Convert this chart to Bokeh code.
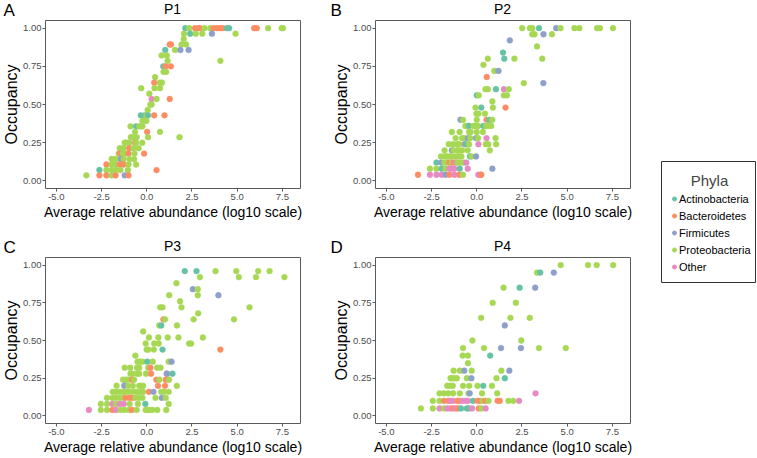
import numpy as np
from bokeh.plotting import figure
from bokeh.models import (ColumnDataSource, FixedTicker, NumeralTickFormatter, Label,
                          Legend, LegendItem, Range1d, Spacer)
from bokeh.layouts import row, column
from bokeh.embed import file_html
from bokeh.resources import INLINE

# ---------------- data ----------------
phyla_names = ["Actinobacteria", "Bacteroidetes", "Firmicutes", "Proteobacteria", "Other"]
phyla_codes = ["A", "B", "F", "P", "O"]
phyla_colors = ["#66C2A5", "#FC8D62", "#8DA0CB", "#A6D854", "#E78AC3"]

x_ticks = [-5.0, -2.5, 0.0, 2.5, 5.0, 7.5]
y_ticks = [0.0, 0.25, 0.5, 0.75, 1.0]
panel_titles = ["P1", "P2", "P3", "P4"]
panel_letters = ["A", "B", "C", "D"]
legend_title = "Phyla"
x_title = "Average relative abundance (log10 scale)"
y_title = "Occupancy"

# P1: one entry per occupancy level; x values and phylum codes of the points at that level
p1_occ = [1.000, 0.964, 0.929, 0.893, 0.857, 0.821, 0.786, 0.750, 0.714, 0.679, 0.643, 0.607, 0.571, 0.536,
          0.500, 0.464, 0.429, 0.393, 0.357, 0.321, 0.286, 0.250, 0.214, 0.179, 0.143, 0.107, 0.071, 0.036]
p1_x = [
    [2.13, 2.35, 2.67, 2.85, 2.94, 3.19, 3.51, 3.69, 3.87, 4.05, 4.20, 4.43, 4.55, 5.94, 6.08, 6.71, 7.46, 7.53],
    [2.06, 2.40, 2.71, 3.07, 3.60, 4.91],
    [2.04],
    [1.27, 1.34, 1.92, 2.17],
    [1.02, 1.56, 1.86, 2.31],
    [0.82, 1.11],
    [1.15, 4.07],
    [0.91, 1.04, 1.33],
    [0.93, 1.07],
    [0.46],
    [0.41, 0.72, 0.84],
    [-0.31, 0.43, 0.73],
    [0.14],
    [0.27, 0.54, 1.27],
    [0.20, 0.27],
    [0.05],
    [-0.33, -0.11, -0.02, 0.07, 0.41, 0.98],
    [-0.24, -0.13, -0.02],
    [-0.90, -0.59, -0.42, -0.31, -0.24],
    [-0.65, 0.02, 0.73],
    [-0.88, -0.77, -0.56, 0.07, 1.81],
    [-1.22, -1.13, -0.97, -0.65, -0.59, -0.25],
    [-1.49, -1.28, -0.97, -0.74, -0.45],
    [-1.55, -1.49, -1.33, -1.19, -1.01, -0.68, -0.15],
    [-1.94, -1.72, -1.46, -1.42, -1.28, -0.95, -0.70],
    [-2.23, -1.94, -1.72, -1.49, -1.28, -1.01, -0.59],
    [-2.62, -2.23, -1.94, -1.72, -1.46, -1.04, 0.54],
    [-3.34, -2.62, -2.23, -1.94, -1.72, -1.22, -1.01],
]
p1_phy = ["APBBBPPBBBBAABBPPP", "PAPPFP", "P", "BBPP", "APFF", "PP", "PP", "ABB", "PP", "P", "BPP", "PPP",
          "P", "OPB", "PP", "P", "AAPABB", "PPP", "PAPPP", "PBP", "PPPPP", "PPPBPP", "PPBPP", "PBPPBPB",
          "PPPFPPP", "BPPBBPP", "APPPPPB", "PBBPBFB"]

# P2
p2_occ = [1.00, 0.96, 0.92, 0.88, 0.84, 0.80, 0.76, 0.72, 0.68, 0.64, 0.60, 0.56, 0.52, 0.48, 0.44, 0.40,
          0.36, 0.32, 0.28, 0.24, 0.20, 0.16, 0.12, 0.08, 0.04]
p2_x = [
    [2.51, 2.94, 3.07, 3.44, 4.39, 4.63, 5.40, 5.67, 6.65, 6.81, 7.53],
    [3.07, 3.19, 3.69, 4.16],
    [1.83],
    [3.33],
    [1.45],
    [0.61, 1.52, 2.08, 3.62],
    [0.37],
    [0.97, 1.20],
    [0.55],
    [2.60, 3.68],
    [0.48, 0.61, 1.06, 1.50, 1.77],
    [0.00, 0.11, 1.50, 1.67],
    [0.86],
    [-0.07, 0.25, 0.89, 1.59],
    [-0.02, 0.09, 0.45],
    [-0.90, -0.76, 0.00, 0.54, 0.70, 0.86],
    [-0.63, -0.54, -0.42, -0.18, -0.11, 0.07, 0.37, 0.52, 0.64, 0.80],
    [-1.38, -0.95, -0.43, -0.34, 0.00, 0.34],
    [-1.17, -0.81, -0.68, -0.49, -0.36, -0.04, 0.07, 0.54, 1.04],
    [-1.55, -1.31, -1.08, -0.97, -0.68, -0.62, -0.43, 0.09, 0.50, 0.64, 1.07],
    [-1.78, -1.38, -1.28, -1.08, -0.99, -0.81, -0.50, 0.72],
    [-1.98, -1.76, -1.64, -1.49, -1.37, -1.15, -0.97, -0.85, -0.38, -0.29, -0.04],
    [-2.23, -1.96, -1.80, -1.67, -1.51, -1.38, -1.28, -1.15, -1.06, -0.92, -0.74, -0.58],
    [-2.59, -2.23, -1.94, -1.72, -1.51, -1.40, -1.24, -0.94, -0.50, 0.86],
    [-3.25, -2.59, -2.23, -1.94, -1.72, -1.51, -1.24, -0.97, -0.76, 0.09, 0.20, 0.25],
]
p2_phy = ["PPPAFPPPPPP", "PPFP", "F", "P", "A", "PAPP", "P", "PF", "B", "PF", "PPAOP", "APPP", "P", "PAPB",
          "PPP", "FPPBAP", "PPAPPPAPPP", "PPPPPP", "PPPFPFPOP", "PPPPOAPOPPP", "PFPPPPPP", "PPPPPPPPAPF",
          "AFPPBPBOPPPO", "PPAPOOOAOF", "BOOOFBOBPOOB"]

# P3
p3_occ = [0.96, 0.92, 0.88, 0.84, 0.80, 0.76, 0.72, 0.68, 0.64, 0.60, 0.56, 0.52, 0.48, 0.44, 0.40, 0.36,
          0.32, 0.28, 0.24, 0.20, 0.16, 0.12, 0.08, 0.04]
p3_x = [
    [2.10, 2.75, 3.80, 4.95, 6.16, 6.79],
    [2.94, 5.09, 6.04, 7.61],
    [1.64],
    [2.55, 2.82],
    [1.24, 2.82, 3.96],
    [1.84],
    [0.74, 0.87, 1.92, 5.68],
    [2.84],
    [0.92, 1.01, 2.59, 4.82],
    [0.69, 0.80, 1.67],
    [-0.20],
    [0.12, 0.64, 1.16, 1.75, 3.10],
    [-0.06, 0.41, 0.66, 2.34, 2.45],
    [-0.01, 0.08, 0.39, 0.87, 4.07],
    [-0.63],
    [-0.51, -0.38, -0.24, 0.03, 0.33, 1.21, 1.37],
    [-1.22, -0.92, -0.54, -0.42, 0.08, 0.20, 0.57, 0.76],
    [-0.90, -0.79, -0.54, -0.42, -0.04, 0.24, 1.10, 1.12, 1.42],
    [-1.31, -1.17, -1.04, -0.81, -0.70, 0.53, 0.70, 1.05, 1.23],
    [-1.67, -1.24, -1.02, -0.77, -0.42, -0.31, -0.20, 0.62, 1.01, 1.66],
    [-1.88, -1.70, -1.49, -1.31, -1.17, -1.02, -0.83, -0.63, -0.49, -0.31, -0.20, 0.12, 0.37, 0.80, 0.96, 1.21],
    [-2.20, -1.90, -1.70, -1.49, -1.31, -1.17, -0.95, -0.81, -0.63, -0.42, -0.24, 0.48, 0.83, 1.05],
    [-2.54, -2.20, -1.90, -1.70, -1.49, -1.27, -0.95, -0.49, -0.08, 1.21],
    [-3.20, -2.54, -2.20, -1.90, -1.70, -1.45, -1.24, -0.99, -0.83, -0.56, -0.06, 0.03, 0.12, 0.30, 0.58, 1.08],
]
p3_phy = ["AAPPPP", "PPPP", "P", "FP", "PPF", "P", "PPPP", "P", "BPPP", "PAP", "P", "PPPPP", "PPPPP", "PPPAB",
          "P", "PPPAPPF", "PPPPPBPP", "PPPPPBBFA", "PPPBPBPBP", "PFPPPPPBBP", "PPPPPPPPPPPBFPPP",
          "PPPPPBBBPPPPFP", "PPOPOOPPAP", "OPPBOPPPBPPPPPPP"]

# P4
p4_occ = [1.00, 0.95, 0.85, 0.75, 0.65, 0.60, 0.50, 0.45, 0.40, 0.35, 0.30, 0.25, 0.20, 0.15, 0.10, 0.05]
p4_x = [
    [4.64, 6.15, 6.63, 7.54],
    [3.33, 3.51, 4.26],
    [1.48, 2.37, 3.23],
    [0.88, 2.16],
    [0.24, 1.86, 2.93],
    [1.55],
    [-0.24, 2.46],
    [-0.76, 0.40, 1.34, 2.44, 3.44, 4.92],
    [-0.78, -0.49, 0.74],
    [-0.49],
    [-1.28, -0.94, -0.69, -0.28, 1.36, 1.80],
    [-1.45, -1.37, -1.24, -1.10, -0.55, -0.30, 1.09, 1.55],
    [-1.63, -1.49, -1.33, -0.76, -0.42, 0.04, 0.36, 0.84],
    [-2.06, -1.81, -1.58, -1.31, -0.94, -0.46, -0.39, 0.29, 1.13, 3.25],
    [-2.43, -2.06, -1.81, -1.58, -1.45, -1.31, -1.08, -0.96, -0.81, -0.60, -0.49, -0.21, 0.04, 0.18, 0.33,
     0.47, 0.65, 1.15, 1.27, 1.75, 2.02, 2.34],
    [-3.09, -2.43, -2.06, -1.81, -1.63, -1.45, -1.31, -1.17, -1.04, -0.87, -0.55, -0.44, -0.26, 0.11, 0.26, 0.49],
]
p4_phy = ["PPPP", "PAF", "PAF", "PP", "PPP", "F", "PP", "PPFFPP", "PPA", "P", "PPFPPF", "PPPPPFPA",
          "PPPPPPAP", "PPPPPPFPPO", "PPBBOOBBOOOABBPBPBBPPO", "PPOPOOBOBAAAOBPO"]

# ---------------- styling ----------------
FONT = "Liberation Sans"
X_RANGE = (-5.6, 8.5)
Y_RANGE = (-0.05, 1.05)
BLOCK_W = 330
code_to_color = dict(zip(phyla_codes, phyla_colors))


def build_source(occ, xs, phy):
    xx, yy, cc = [], [], []
    for level, row_x, row_p in zip(occ, xs, phy):
        assert len(row_x) == len(row_p), (level, row_x, row_p)
        for xv, code in zip(row_x, row_p):
            xx.append(xv)
            yy.append(level)
            cc.append(code_to_color[code])
    return ColumnDataSource(dict(x=xx, y=yy, color=cc))


def make_header(letter, title, height, letter_x, drop):
    h = figure(width=BLOCK_W, height=height, x_range=Range1d(0, 1), y_range=Range1d(0, 1),
               output_backend="svg", toolbar_location=None, title=None,
               min_border=0, min_border_left=0, min_border_right=0, min_border_top=0, min_border_bottom=0,
               x_axis_location=None, y_axis_location=None, frame_align=False)
    h.outline_line_color = None
    h.xgrid.visible = False
    h.ygrid.visible = False
    # positioned from the top edge of the header
    h.add_layout(Label(x=letter_x, y=1, x_units="screen", y_units="data", y_offset=-drop, text=letter,
                       text_font=FONT, text_font_size="17px", text_color="black",
                       text_baseline="top", text_align="left"))
    h.add_layout(Label(x=172, y=1, x_units="screen", y_units="data", y_offset=-(drop + 0.5), text=title,
                       text_font=FONT, text_font_size="14px", text_color="black",
                       text_baseline="top", text_align="center"))
    return h


def make_panel(occ, xs, phy, height):
    p = figure(width=BLOCK_W, height=height, x_range=Range1d(*X_RANGE), y_range=Range1d(*Y_RANGE),
               output_backend="svg", toolbar_location=None, title=None,
               min_border_left=38, min_border_right=30, min_border_top=0, min_border_bottom=0)
    p.background_fill_color = "white"
    p.border_fill_color = "white"
    p.outline_line_color = "#5a5a5a"
    p.outline_line_width = 1
    p.xgrid.visible = False
    p.ygrid.visible = False

    p.xaxis.ticker = FixedTicker(ticks=x_ticks)
    p.xaxis.formatter = NumeralTickFormatter(format="0.0")
    p.yaxis.ticker = FixedTicker(ticks=y_ticks)
    p.yaxis.formatter = NumeralTickFormatter(format="0.00")
    p.xaxis.axis_label = x_title
    p.yaxis.axis_label = y_title
    for ax in (p.xaxis, p.yaxis):
        ax.axis_line_color = None
        ax.major_tick_line_color = "#5a5a5a"
        ax.major_tick_out = 3
        ax.major_tick_in = 0
        ax.minor_tick_line_color = None
        ax.major_label_text_font = FONT
        ax.major_label_text_font_size = "9.5px"
        ax.major_label_text_color = "#4d4d4d"
        ax.major_label_standoff = 2
        ax.axis_label_text_font = FONT
        ax.axis_label_text_font_style = "normal"
        ax.axis_label_text_color = "black"
        ax.axis_label_standoff = 1
    p.yaxis.major_label_standoff = 1
    p.yaxis.axis_label_standoff = 0
    p.xaxis.axis_label_text_font_size = "14px"
    p.yaxis.axis_label_text_font_size = "16px"

    src = build_source(occ, xs, phy)
    p.scatter("x", "y", source=src, size=5.8, fill_color="color", line_color="color", line_width=0.5)
    return p


hA = make_header(panel_letters[0], panel_titles[0], 20, 3, 0)
hB = make_header(panel_letters[1], panel_titles[1], 20, 0, 0)
hC = make_header(panel_letters[2], panel_titles[2], 35, 3, 15)
hD = make_header(panel_letters[3], panel_titles[3], 35, 0, 15)
pA = make_panel(p1_occ, p1_x, p1_phy, 202)
pB = make_panel(p2_occ, p2_x, p2_phy, 202)
pC = make_panel(p3_occ, p3_x, p3_phy, 200)
pD = make_panel(p4_occ, p4_x, p4_phy, 200)

# ---------------- legend ----------------
leg = figure(width=95, height=122, x_range=Range1d(0, 1), y_range=Range1d(0, 1),
             output_backend="svg", toolbar_location=None, min_border=0, title=None,
             x_axis_location=None, y_axis_location=None, frame_align=False)
leg.xgrid.visible = False
leg.ygrid.visible = False
leg.outline_line_color = "#333333"
leg.outline_line_width = 1
items = []
for name, col in zip(phyla_names, phyla_colors):
    # a single NaN point: nothing is drawn in the frame, but the legend glyph is
    r = leg.scatter(x=np.array([np.nan]), y=np.array([np.nan]), size=5, fill_color=col, line_color=col)
    items.append(LegendItem(label=name, renderers=[r]))
legend = Legend(items=items, location=(8, 8), padding=0, margin=0, spacing=0,
                border_line_color=None, background_fill_alpha=0,
                label_text_font=FONT, label_text_font_size="11px", label_text_color="black",
                glyph_width=10, glyph_height=17, label_height=17, label_standoff=0)
leg.add_layout(legend)
leg.add_layout(Label(x=48, y=103, x_units="screen", y_units="screen", text=legend_title,
                     text_font=FONT, text_font_size="15px", text_align="center", text_baseline="middle"))

top = row(column(hA, pA), column(hB, pB))
bottom = row(column(hC, pC), column(hD, pD))
left = column(top, bottom)
right = column(Spacer(width=96, height=161), row(Spacer(width=1, height=122), leg))
layout = row(left, right)

open("out.html", "w").write(file_html(layout, INLINE))
